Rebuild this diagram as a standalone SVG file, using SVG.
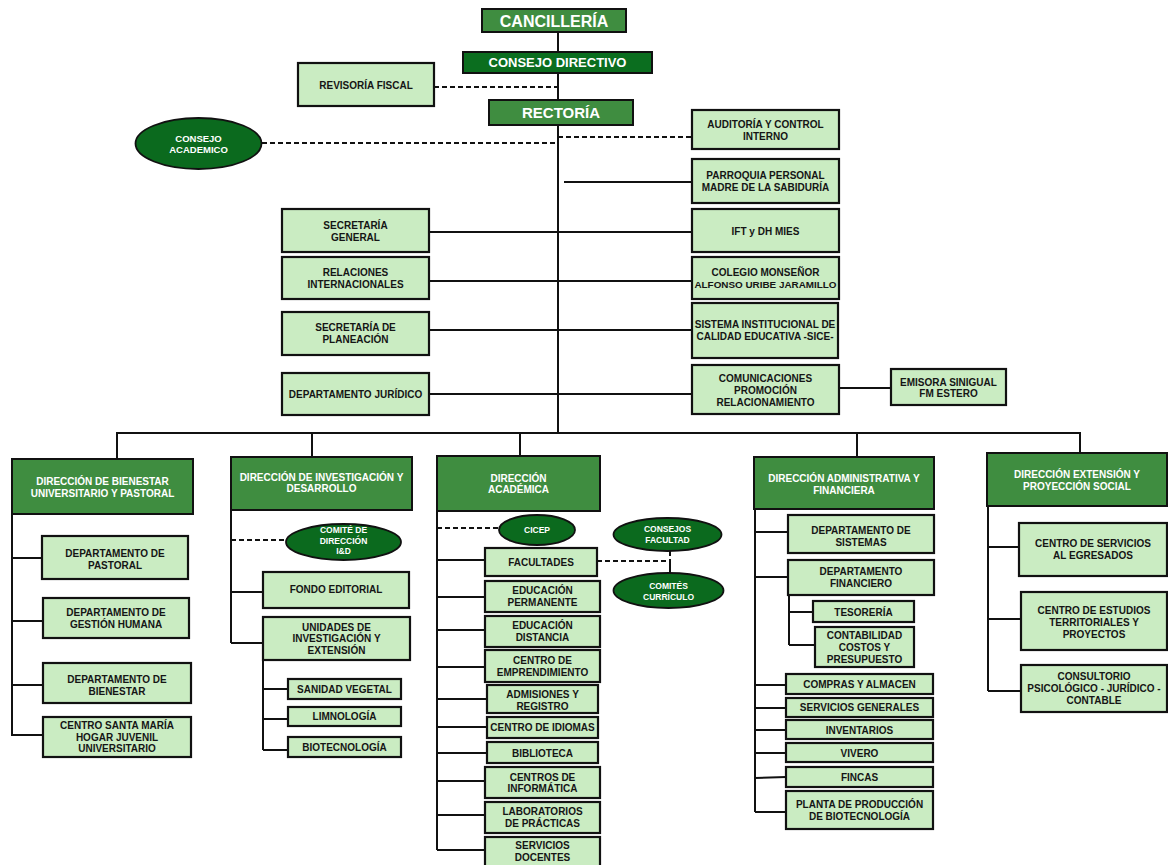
<svg xmlns="http://www.w3.org/2000/svg" width="1168" height="865" viewBox="0 0 1168 865">
<style>
.hdr{fill:#3f8d40;stroke:#111;stroke-width:2}
.box{fill:#caecc2;stroke:#111;stroke-width:2.2}
.ell{fill:#0b6a1e;stroke:#111;stroke-width:1.8}
.ln{stroke:#111;stroke-width:2;fill:none}
.dash{stroke:#111;stroke-width:2;fill:none;stroke-dasharray:5,3}
text{font-family:"Liberation Sans",Arial,sans-serif;font-weight:bold;font-size:10px;text-anchor:middle;fill:#151515}
.w{fill:#fff}
.s9{font-size:9.5px}
.s8{font-size:8.5px}
</style>
<rect width="1168" height="865" fill="#fff"/>
<g id="connectors">
<line class="ln" x1="558" y1="32" x2="558" y2="433"/>
<line class="dash" x1="434" y1="87" x2="558" y2="87"/>
<line class="dash" x1="262" y1="143" x2="558" y2="143"/>
<line class="dash" x1="558" y1="137" x2="692" y2="137"/>
<line class="ln" x1="564" y1="182" x2="692" y2="182"/>
<line class="ln" x1="429" y1="232" x2="692" y2="232"/>
<line class="ln" x1="429" y1="281" x2="692" y2="281"/>
<line class="ln" x1="429" y1="330" x2="692" y2="330"/>
<line class="ln" x1="429" y1="394" x2="692" y2="394"/>
<line class="ln" x1="839" y1="388" x2="891" y2="388"/>
<polyline class="ln" points="117,459 117,433 1080,433 1080,453"/>
<line class="ln" x1="312" y1="433" x2="312" y2="457"/>
<line class="ln" x1="520" y1="433" x2="520" y2="456"/>
<line class="ln" x1="857" y1="433" x2="857" y2="457"/>
<line class="ln" x1="12" y1="514" x2="12" y2="736"/>
<line class="ln" x1="12" y1="558" x2="42" y2="558"/>
<line class="ln" x1="12" y1="621" x2="43" y2="621"/>
<line class="ln" x1="12" y1="685" x2="43" y2="685"/>
<line class="ln" x1="12" y1="735" x2="43" y2="735"/>
<line class="ln" x1="231" y1="510" x2="231" y2="643"/>
<line class="dash" x1="231" y1="540" x2="286" y2="540"/>
<line class="ln" x1="231" y1="592" x2="263" y2="592"/>
<line class="ln" x1="231" y1="643" x2="263" y2="643"/>
<line class="ln" x1="263" y1="660" x2="263" y2="750"/>
<line class="ln" x1="263" y1="689" x2="288" y2="689"/>
<line class="ln" x1="263" y1="719" x2="288" y2="719"/>
<line class="ln" x1="263" y1="750" x2="288" y2="750"/>
<line class="ln" x1="437" y1="511" x2="437" y2="850"/>
<line class="dash" x1="437" y1="528" x2="499" y2="528"/>
<line class="ln" x1="437" y1="560" x2="485" y2="560"/>
<line class="dash" x1="597" y1="561" x2="670" y2="561"/>
<line class="dash" x1="670" y1="551" x2="670" y2="561"/>
<line class="ln" x1="670" y1="561" x2="670" y2="573"/>
<line class="ln" x1="437" y1="597" x2="485" y2="597"/>
<line class="ln" x1="437" y1="630" x2="485" y2="630"/>
<line class="ln" x1="437" y1="667" x2="485" y2="667"/>
<line class="ln" x1="437" y1="699" x2="487" y2="699"/>
<line class="ln" x1="437" y1="727" x2="487" y2="727"/>
<line class="ln" x1="437" y1="753" x2="487" y2="753"/>
<line class="ln" x1="437" y1="781" x2="485" y2="781"/>
<line class="ln" x1="437" y1="815" x2="485" y2="815"/>
<line class="ln" x1="437" y1="850" x2="485" y2="850"/>
<line class="ln" x1="755" y1="509" x2="755" y2="812"/>
<line class="ln" x1="755" y1="532" x2="788" y2="532"/>
<line class="ln" x1="755" y1="577" x2="788" y2="577"/>
<line class="ln" x1="789" y1="595" x2="789" y2="645"/>
<line class="ln" x1="789" y1="612" x2="813" y2="612"/>
<line class="ln" x1="789" y1="645" x2="815" y2="645"/>
<line class="ln" x1="755" y1="685" x2="786" y2="685"/>
<line class="ln" x1="755" y1="708" x2="786" y2="708"/>
<line class="ln" x1="755" y1="730" x2="786" y2="730"/>
<line class="ln" x1="755" y1="753" x2="786" y2="753"/>
<line class="ln" x1="755" y1="778" x2="786" y2="777"/>
<line class="ln" x1="755" y1="812" x2="786" y2="812"/>
<line class="ln" x1="988" y1="506" x2="988" y2="691"/>
<line class="ln" x1="988" y1="547" x2="1019" y2="547"/>
<line class="ln" x1="988" y1="619" x2="1021" y2="619"/>
<line class="ln" x1="988" y1="691" x2="1021" y2="691"/>
</g>

<g id="cancilleria"><rect class="hdr" x="482" y="9" width="144" height="23"/><text class="w" x="554" y="26.5" style="font-size:16px">CANCILLERÍA</text></g>
<g id="consejo-directivo"><rect class="hdr" x="463" y="52" width="189" height="21" style="fill:#0b6e1f"/><text class="w" x="557.5" y="67" style="font-size:13px">CONSEJO DIRECTIVO</text></g>
<g id="revisoria"><rect class="box" x="298" y="63" width="136" height="43"/><text x="366" y="88.5">REVISORÍA FISCAL</text></g>
<g id="rectoria"><rect class="hdr" x="489" y="100" width="144" height="25"/><text class="w" x="561" y="118" style="font-size:15px">RECTORÍA</text></g>
<g id="consejo-academico"><ellipse class="ell" cx="198.5" cy="143.5" rx="63" ry="25.5"/><text class="w s9" x="198.5" y="141.5">CONSEJO</text><text class="w s9" x="198.5" y="152.5">ACADEMICO</text></g>
<g id="auditoria"><rect class="box" x="692" y="110" width="147" height="39"/><text x="765.5" y="127.5">AUDITORÍA Y CONTROL</text><text x="765.5" y="139.5">INTERNO</text></g>
<g id="parroquia"><rect class="box" x="692" y="159" width="147" height="44"/><text x="765.5" y="178.5">PARROQUIA PERSONAL</text><text x="765.5" y="190.5">MADRE DE LA SABIDURÍA</text></g>
<g id="secretaria-general"><rect class="box" x="282" y="209" width="147" height="43"/><text x="355.5" y="228.5">SECRETARÍA</text><text x="355.5" y="240.5">GENERAL</text></g>
<g id="ift"><rect class="box" x="692" y="209" width="147" height="43"/><text x="765.5" y="234.5">IFT y DH MIES</text></g>
<g id="relaciones"><rect class="box" x="282" y="257" width="147" height="42"/><text x="355.5" y="275.5">RELACIONES</text><text x="355.5" y="287.5">INTERNACIONALES</text></g>
<g id="colegio"><rect class="box" x="692" y="257" width="147" height="42"/><text x="765.5" y="275.5">COLEGIO MONSEÑOR</text><text x="765.5" y="287.5" style="font-size:9.9px">ALFONSO URIBE JARAMILLO</text></g>
<g id="planeacion"><rect class="box" x="282" y="312" width="147" height="43"/><text x="355.5" y="330.5">SECRETARÍA DE</text><text x="355.5" y="342.5">PLANEACIÓN</text></g>
<g id="sistema"><rect class="box" x="692" y="303" width="146" height="55"/><text x="765" y="328">SISTEMA INSTITUCIONAL DE</text><text x="765" y="340">CALIDAD EDUCATIVA -SICE-</text></g>
<g id="juridico"><rect class="box" x="282" y="373" width="147" height="42"/><text x="355.5" y="397.5">DEPARTAMENTO JURÍDICO</text></g>
<g id="comunicaciones"><rect class="box" x="692" y="365" width="147" height="49"/><text x="765.5" y="381.5">COMUNICACIONES</text><text x="765.5" y="393.5">PROMOCIÓN</text><text x="765.5" y="405.5">RELACIONAMIENTO</text></g>
<g id="emisora"><rect class="box" x="891" y="369" width="115" height="36"/><text x="948.5" y="385.5">EMISORA SINIGUAL</text><text x="948.5" y="396.5">FM ESTERO</text></g>

<g id="dir-bienestar"><rect class="hdr" x="12" y="459" width="181" height="55"/><text class="w" x="102.5" y="484.5">DIRECCIÓN DE BIENESTAR</text><text class="w" x="102.5" y="496.5">UNIVERSITARIO Y PASTORAL</text></g>
<g id="pastoral"><rect class="box" x="42" y="536" width="146" height="43"/><text x="115" y="556.5">DEPARTAMENTO DE</text><text x="115" y="568.5">PASTORAL</text></g>
<g id="gestion-humana"><rect class="box" x="43" y="598" width="146" height="40"/><text x="116" y="615.5">DEPARTAMENTO  DE</text><text x="116" y="627.5">GESTIÓN HUMANA</text></g>
<g id="depto-bienestar"><rect class="box" x="43" y="663" width="148" height="40"/><text x="117" y="682.5">DEPARTAMENTO DE</text><text x="117" y="694.5">BIENESTAR</text></g>
<g id="santa-maria"><rect class="box" x="43" y="717" width="148" height="40"/><text x="117" y="728.5">CENTRO SANTA MARÍA</text><text x="117" y="740.5">HOGAR JUVENIL</text><text x="117" y="752">UNIVERSITARIO</text></g>

<g id="dir-investigacion"><rect class="hdr" x="231" y="457" width="181" height="53"/><text class="w" x="321.5" y="480.5">DIRECCIÓN DE INVESTIGACIÓN Y</text><text class="w" x="321.5" y="492">DESARROLLO</text></g>
<g id="comite-id"><ellipse class="ell" cx="343.5" cy="542" rx="57.5" ry="18"/><text class="w s8" x="343.5" y="533">COMITÉ DE</text><text class="w s8" x="343.5" y="544">DIRECCIÓN</text><text class="w s8" x="343.5" y="554">I&amp;D</text></g>
<g id="fondo-editorial"><rect class="box" x="263" y="572" width="146" height="36"/><text x="336" y="593">FONDO EDITORIAL</text></g>
<g id="unidades"><rect class="box" x="263" y="617" width="147" height="43"/><text x="336.5" y="630.5">UNIDADES DE</text><text x="336.5" y="642">INVESTIGACIÓN Y</text><text x="336.5" y="653.5">EXTENSIÓN</text></g>
<g id="sanidad"><rect class="box" x="288" y="679" width="113" height="20"/><text x="344.5" y="692.5">SANIDAD VEGETAL</text></g>
<g id="limnologia"><rect class="box" x="288" y="707" width="113" height="19"/><text x="344.5" y="720">LIMNOLOGÍA</text></g>
<g id="biotecnologia"><rect class="box" x="288" y="737" width="113" height="20"/><text x="344.5" y="750.5">BIOTECNOLOGÍA</text></g>

<g id="dir-academica"><rect class="hdr" x="437" y="456" width="163" height="55"/><text class="w" x="518.5" y="481.5">DIRECCIÓN</text><text class="w" x="518.5" y="493">ACADÉMICA</text></g>
<g id="cicep"><ellipse class="ell" cx="537" cy="530" rx="38" ry="15"/><text class="w s8" x="537" y="533">CICEP</text></g>
<g id="consejos-facultad"><ellipse class="ell" cx="667.5" cy="534.5" rx="54" ry="16.5"/><text class="w s8" x="667.5" y="532">CONSEJOS</text><text class="w s8" x="667.5" y="542.5">FACULTAD</text></g>
<g id="comites-curriculo"><ellipse class="ell" cx="668.5" cy="590.5" rx="55" ry="17.5"/><text class="w s8" x="668.5" y="589">COMITÉS</text><text class="w s8" x="668.5" y="599.5">CURRÍCULO</text></g>
<g id="facultades"><rect class="box" x="485" y="548" width="112" height="28"/><text x="541" y="566">FACULTADES</text></g>
<g id="ed-permanente"><rect class="box" x="485" y="581" width="115" height="31"/><text x="542.5" y="593.5">EDUCACIÓN</text><text x="542.5" y="605.5">PERMANENTE</text></g>
<g id="ed-distancia"><rect class="box" x="485" y="616" width="115" height="31"/><text x="542.5" y="628.5">EDUCACIÓN</text><text x="542.5" y="640.5">DISTANCIA</text></g>
<g id="emprendimiento"><rect class="box" x="485" y="650" width="115" height="32"/><text x="542.5" y="663.5">CENTRO DE</text><text x="542.5" y="675.5">EMPRENDIMIENTO</text></g>
<g id="admisiones"><rect class="box" x="487" y="685" width="111" height="28"/><text x="542.5" y="697.5">ADMISIONES Y</text><text x="542.5" y="709.5">REGISTRO</text></g>
<g id="idiomas"><rect class="box" x="487" y="717" width="111" height="21"/><text x="542.5" y="731">CENTRO DE IDIOMAS</text></g>
<g id="biblioteca"><rect class="box" x="487" y="742" width="111" height="21"/><text x="542.5" y="756.5">BIBLIOTECA</text></g>
<g id="informatica"><rect class="box" x="485" y="767" width="115" height="31"/><text x="542.5" y="780.5">CENTROS DE</text><text x="542.5" y="791.5">INFORMÁTICA</text></g>
<g id="laboratorios"><rect class="box" x="485" y="802" width="115" height="31"/><text x="542.5" y="814.5">LABORATORIOS</text><text x="542.5" y="826.5">DE PRÁCTICAS</text></g>
<g id="servicios-docentes"><rect class="box" x="485" y="837" width="115" height="30"/><text x="542.5" y="848.5">SERVICIOS</text><text x="542.5" y="860.5">DOCENTES</text></g>

<g id="dir-administrativa"><rect class="hdr" x="754" y="457" width="180" height="52"/><text class="w" x="844" y="481.5">DIRECCIÓN ADMINISTRATIVA Y</text><text class="w" x="844" y="493.5">FINANCIERA</text></g>
<g id="sistemas"><rect class="box" x="788" y="515" width="146" height="38"/><text x="861" y="533.5">DEPARTAMENTO DE</text><text x="861" y="545.5">SISTEMAS</text></g>
<g id="financiero"><rect class="box" x="788" y="560" width="146" height="35"/><text x="861" y="574.5">DEPARTAMENTO</text><text x="861" y="586.5">FINANCIERO</text></g>
<g id="tesoreria"><rect class="box" x="813" y="601" width="101" height="21"/><text x="863.5" y="615.5">TESORERÍA</text></g>
<g id="contabilidad"><rect class="box" x="815" y="627" width="99" height="40"/><text x="864.5" y="638.5">CONTABILIDAD</text><text x="864.5" y="650.5">COSTOS Y</text><text x="864.5" y="662.5">PRESUPUESTO</text></g>
<g id="compras"><rect class="box" x="786" y="674" width="147" height="20"/><text x="859.5" y="688">COMPRAS Y ALMACEN</text></g>
<g id="servicios-generales"><rect class="box" x="786" y="698" width="147" height="19"/><text x="859.5" y="711">SERVICIOS GENERALES</text></g>
<g id="inventarios"><rect class="box" x="786" y="720" width="147" height="19"/><text x="859.5" y="733.5">INVENTARIOS</text></g>
<g id="vivero"><rect class="box" x="786" y="743" width="147" height="19"/><text x="859.5" y="756.5">VIVERO</text></g>
<g id="fincas"><rect class="box" x="786" y="767" width="147" height="20"/><text x="859.5" y="780.5">FINCAS</text></g>
<g id="planta"><rect class="box" x="786" y="791" width="147" height="38"/><text x="859.5" y="807.5">PLANTA DE PRODUCCIÓN</text><text x="859.5" y="819.5">DE BIOTECNOLOGÍA</text></g>

<g id="dir-extension"><rect class="hdr" x="987" y="453" width="180" height="53"/><text class="w" x="1077" y="477.5">DIRECCIÓN EXTENSIÓN Y</text><text class="w" x="1077" y="489.5">PROYECCIÓN SOCIAL</text></g>
<g id="egresados"><rect class="box" x="1019" y="523" width="148" height="53"/><text x="1093" y="546.5">CENTRO DE SERVICIOS</text><text x="1093" y="558.5">AL EGRESADOS</text></g>
<g id="territoriales"><rect class="box" x="1021" y="592" width="146" height="58"/><text x="1094" y="613.5">CENTRO DE ESTUDIOS</text><text x="1094" y="625.5">TERRITORIALES Y</text><text x="1094" y="637.5">PROYECTOS</text></g>
<g id="consultorio"><rect class="box" x="1021" y="665" width="146" height="47"/><text x="1094" y="679.5">CONSULTORIO</text><text x="1094" y="691.5">PSICOLÓGICO -  JURÍDICO -</text><text x="1094" y="703.5">CONTABLE</text></g>
</svg>
